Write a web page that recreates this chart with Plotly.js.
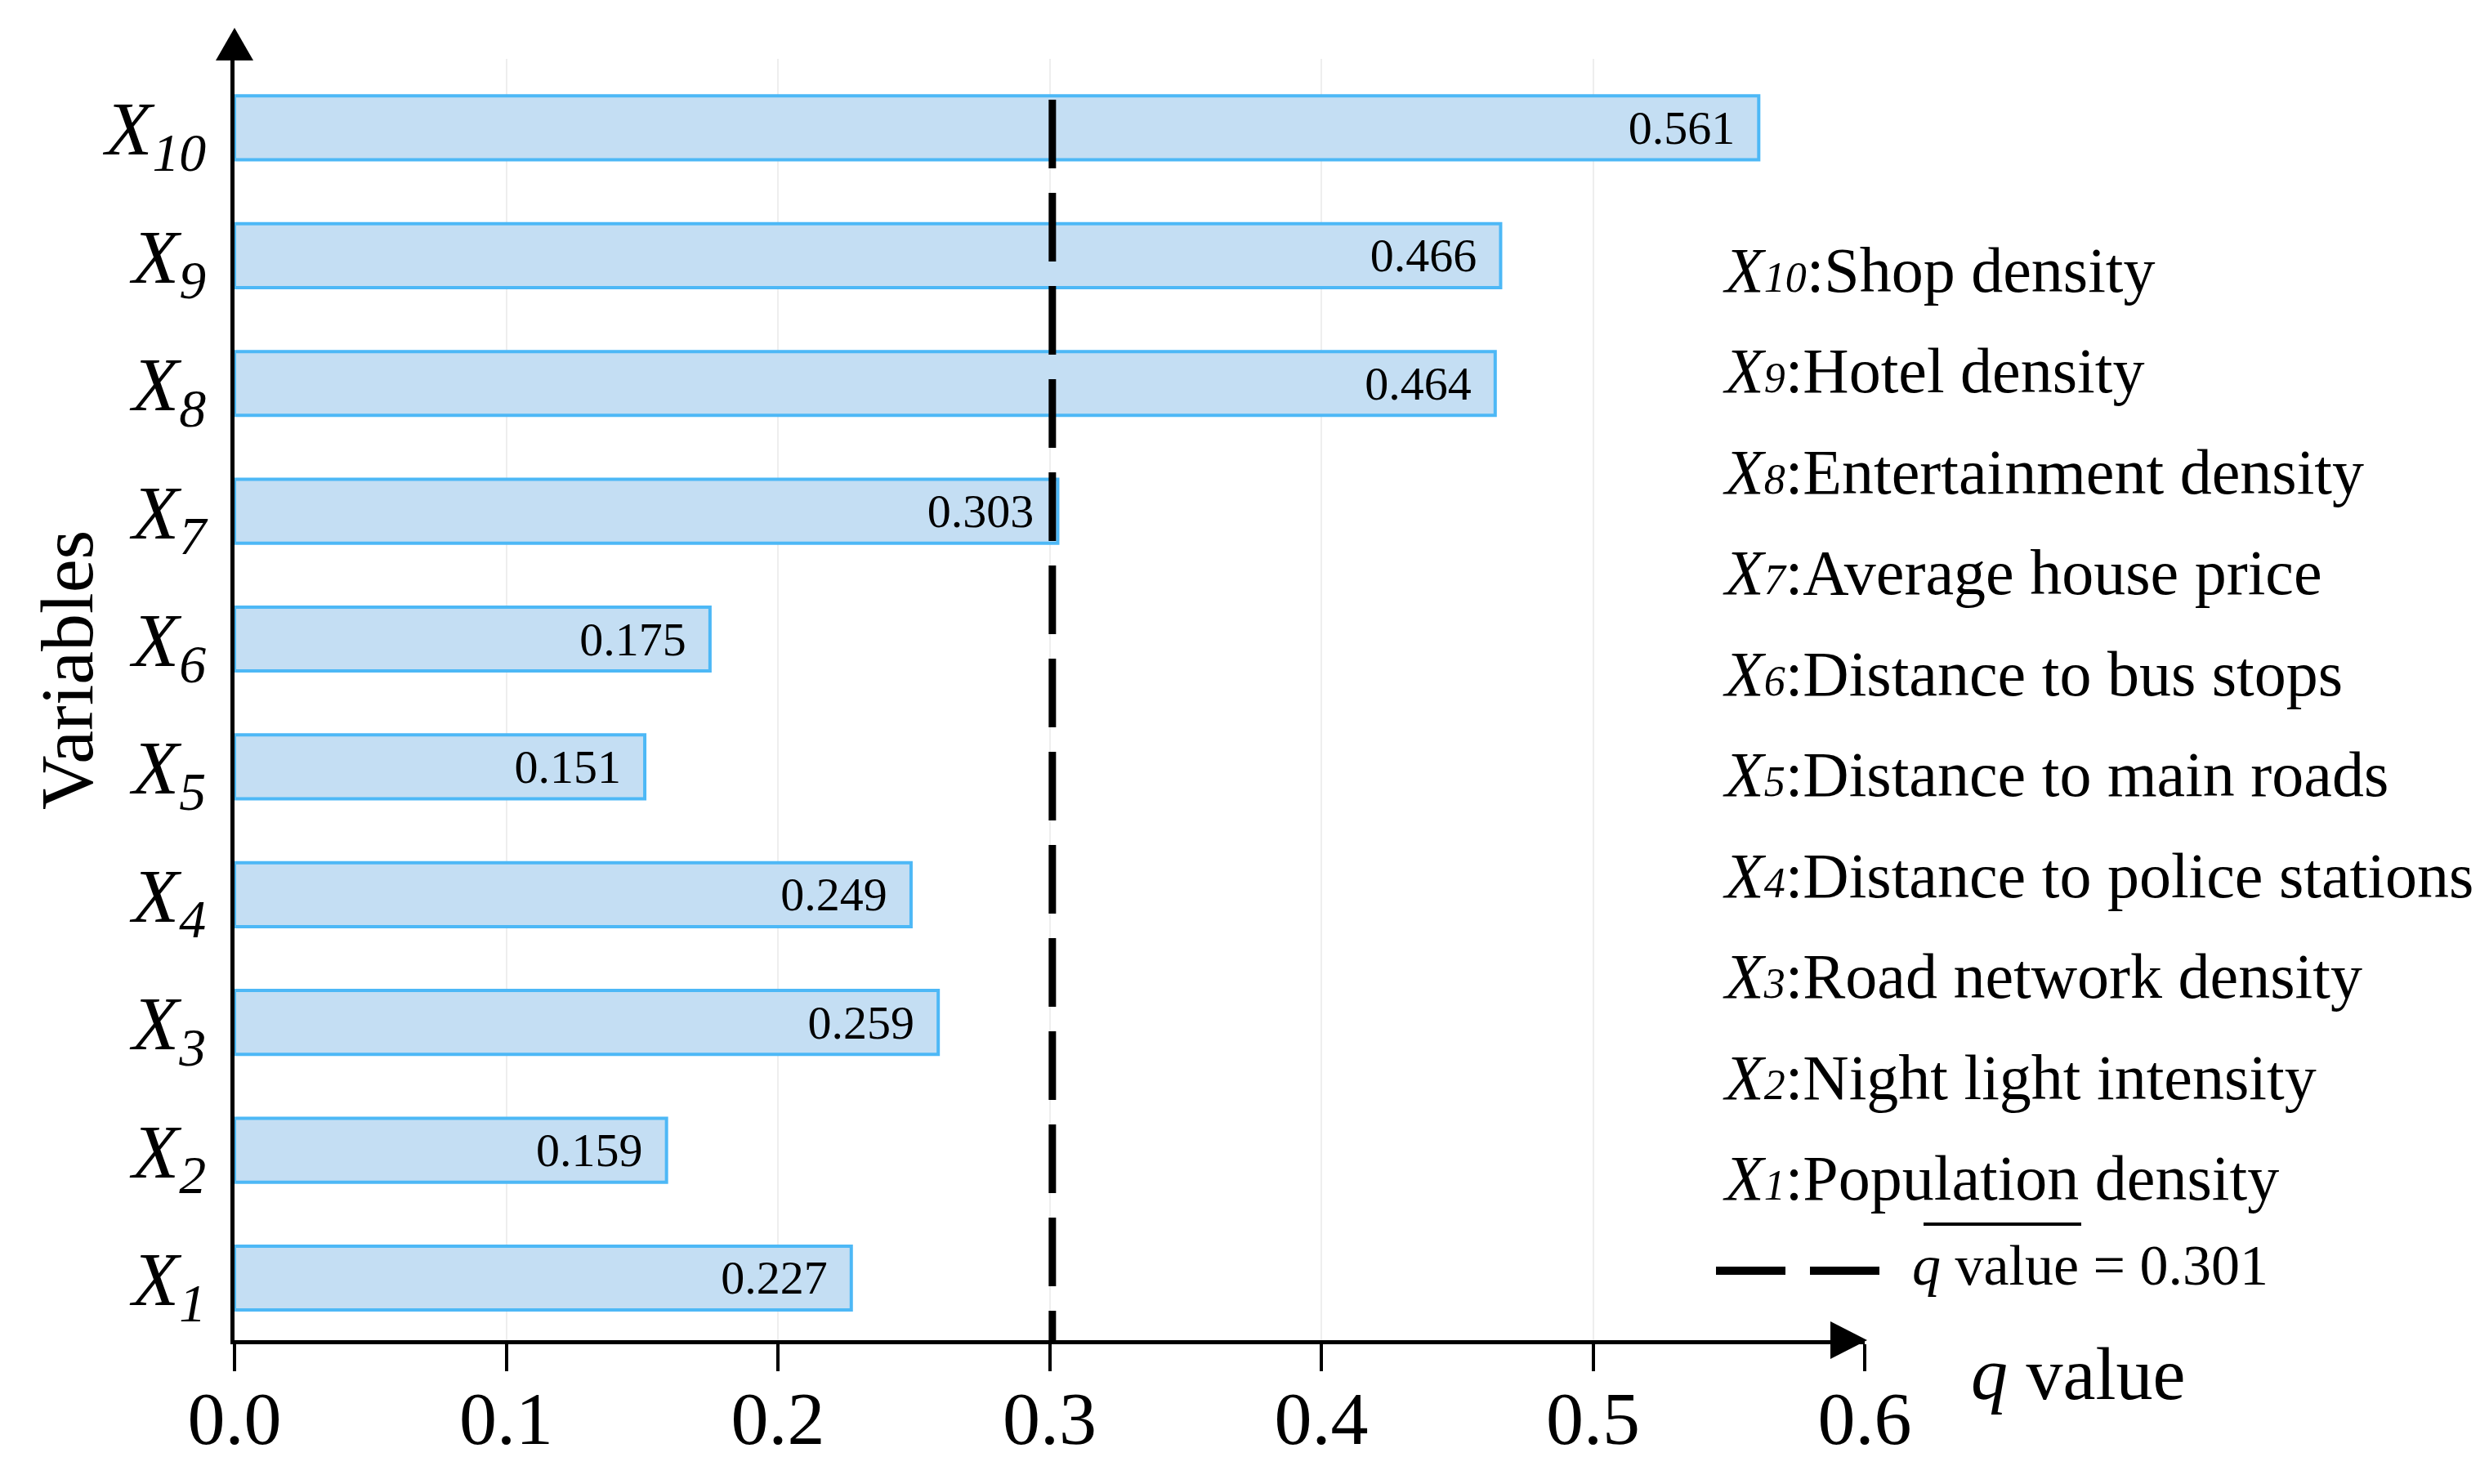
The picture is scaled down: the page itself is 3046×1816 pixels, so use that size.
<!DOCTYPE html>
<html>
<head>
<meta charset="utf-8">
<script src="https://cdn.plot.ly/plotly-3.0.1.min.js"></script>
<style>html,body{margin:0;padding:0;background:#fff;}#chart{width:3046px;height:1816px;}</style>
</head>
<body>
<div id="chart"></div>
<script>
// ---- data ----
const categories = ['X1','X2','X3','X4','X5','X6','X7','X8','X9','X10'];
const qValues = [0.227, 0.159, 0.259, 0.249, 0.151, 0.175, 0.303, 0.464, 0.466, 0.561];
const descriptions = ['Population density','Night light intensity','Road network density',
  'Distance to police stations','Distance to main roads','Distance to bus stops',
  'Average house price','Entertainment density','Hotel density','Shop density'];
const threshold = 0.301;
const xTickVals = [0, 0.1, 0.2, 0.3, 0.4, 0.5, 0.6];
const xTickText = ['0.0','0.1','0.2','0.3','0.4','0.5','0.6'];

// ---- layout geometry ----
const FW = 3046, FH = 1816;
const L = 287, R = FW - 2282, T = 72, B = FH - 1640;
const PW = FW - L - R, PH = FH - T - B;
const px = x => (x - L) / PW;
const py = y => (FH - B - y) / PH;
const FONT = '"Liberation Serif", "Times New Roman", serif';

const yTickText = categories.map(c => '<i>X<sub>' + c.slice(1) + '</sub></i>');

const bar = {
  type: 'bar',
  orientation: 'h',
  y: categories,
  x: qValues,
  width: 0.5,
  marker: {color: '#c4def3', line: {color: '#4db8f6', width: 4}},
  text: qValues.map(v => v.toFixed(3) + '\u2009\u00a0'),
  textposition: 'inside',
  insidetextanchor: 'end',
  constraintext: 'none',
  textfont: {family: FONT, size: 58, color: '#000'},
  hoverinfo: 'x+y',
  showlegend: false
};

const annotations = [];
// y-axis title
annotations.push({xref:'paper', yref:'paper', x: px(82), y: py(820), text:'Variables',
  textangle: -90, showarrow:false, xanchor:'center', yanchor:'middle',
  font:{family:FONT, size:92, color:'#000'}});
// x-axis title
annotations.push({xref:'paper', yref:'paper', x: px(2410), y: py(1682), text:'<i>q</i> value',
  showarrow:false, xanchor:'left', yanchor:'middle',
  font:{family:FONT, size:90, color:'#000'}});
// description legend (top = X10)
for (let k = 0; k < categories.length; k++) {
  const i = categories.length - 1 - k;
  const num = categories[i].slice(1);
  annotations.push({xref:'paper', yref:'paper', x: px(2106), y: py(330 + k * 123.5),
    text: '<i>X<span style="font-size:52px">' + num + '</span></i>:' + descriptions[i],
    showarrow:false, xanchor:'left', yanchor:'middle', align:'left',
    font:{family:FONT, size:78, color:'#000'}});
}
// threshold legend text
annotations.push({xref:'paper', yref:'paper', x: px(2338), y: py(1548),
  text:'<i>q</i> value = ' + threshold.toFixed(3), showarrow:false, xanchor:'left', yanchor:'middle',
  font:{family:FONT, size:70, color:'#000'}});

const shapes = [
  // threshold dashed line
  {type:'line', xref:'x', yref:'paper', x0: threshold, x1: threshold, y0: py(122), y1: 0,
   line:{color:'#000', width:9, dash:'84px,30px'}, layer:'above'},
  // y-axis arrow head
  {type:'path', xref:'paper', yref:'paper', xsizemode:'pixel', ysizemode:'pixel',
   xanchor: 0, yanchor: 1, path:'M -23 -2 L 23 -2 L 0 38 Z', fillcolor:'#000', line:{width:0}},
  // x-axis arrow head
  {type:'path', xref:'paper', yref:'paper', xsizemode:'pixel', ysizemode:'pixel',
   xanchor: 1, yanchor: 0, path:'M -42 23 L -42 -23 L 3 0 Z', fillcolor:'#000', line:{width:0}},
  // legend dashed sample
  {type:'line', xref:'paper', yref:'paper', x0: px(2100), x1: px(2300), y0: py(1555), y1: py(1555),
   line:{color:'#000', width:10, dash:'85px,30px'}},
  // overline above q value
  {type:'line', xref:'paper', yref:'paper', x0: px(2354), x1: px(2547), y0: py(1498), y1: py(1498),
   line:{color:'#000', width:4}}
];

const layout = {
  width: FW, height: FH,
  margin: {l: L, r: R, t: T, b: B, pad: 0},
  paper_bgcolor: '#fff', plot_bgcolor: '#fff',
  font: {family: FONT, color: '#000'},
  bargap: 0.5,
  xaxis: {
    range: [0, 0.6], tickvals: xTickVals, ticktext: xTickText,
    showgrid: true, gridcolor: '#eeeeee', gridwidth: 2, zeroline: false,
    showline: true, linecolor: '#000', linewidth: 5,
    ticks: 'outside', ticklen: 33, tickwidth: 4, tickcolor: '#000',
    tickfont: {family: FONT, size: 92, color: '#000'}, ticklabelstandoff: -21,
    fixedrange: true
  },
  yaxis: {
    type: 'category', categoryorder: 'array', categoryarray: categories,
    range: [-0.486, 9.54], tickvals: categories, ticktext: yTickText,
    showgrid: false, zeroline: false,
    showline: true, linecolor: '#000', linewidth: 5, ticks: '',
    tickfont: {family: FONT, size: 94, color: '#000'}, ticklabelstandoff: 11,
    fixedrange: true
  },
  annotations: annotations,
  shapes: shapes,
  showlegend: false
};

Plotly.newPlot('chart', [bar], layout, {displayModeBar: false, staticPlot: true});
</script>
</body>
</html>
